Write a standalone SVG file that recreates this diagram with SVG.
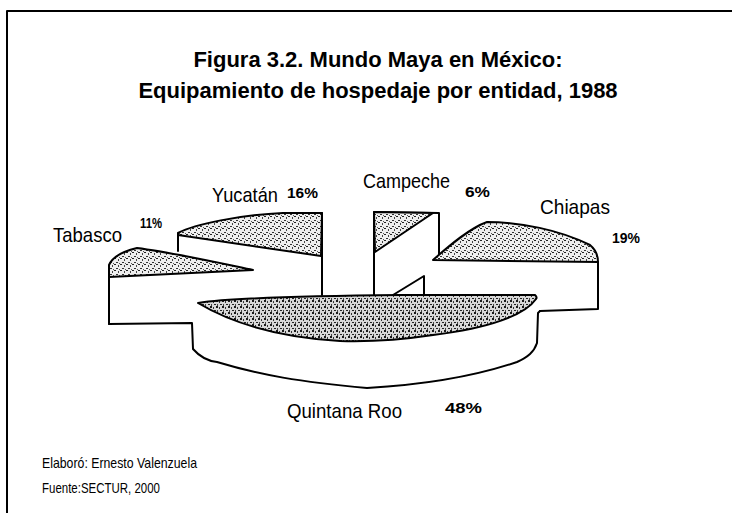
<svg xmlns="http://www.w3.org/2000/svg" width="732" height="513" viewBox="0 0 732 513">
  <defs>
    <pattern id="stip" width="6" height="6" patternUnits="userSpaceOnUse">
      <rect width="6" height="6" fill="#eeeeee"/>
      <rect x="0" y="0" width="2" height="1" fill="#222"/>
      <rect x="4" y="1" width="1" height="2" fill="#444"/>
      <rect x="2" y="4" width="2" height="1" fill="#333"/>
      <rect x="5" y="5" width="1" height="1" fill="#555"/>
    </pattern>
    <pattern id="stipDark" width="6" height="6" patternUnits="userSpaceOnUse">
      <rect width="6" height="6" fill="#d8d8d8"/>
      <rect x="0" y="0" width="2" height="2" fill="#1a1a1a"/>
      <rect x="3" y="1" width="1" height="2" fill="#333"/>
      <rect x="4" y="4" width="2" height="1" fill="#222"/>
      <rect x="1" y="4" width="1" height="2" fill="#444"/>
    </pattern>
    <style>
      .ln { fill: none; stroke: #000; stroke-width: 2; stroke-linejoin: round; stroke-linecap: round; }
      .top { fill: url(#stip); stroke: #000; stroke-width: 2; stroke-linejoin: round; }
      .topd { fill: url(#stipDark); stroke: #000; stroke-width: 2; stroke-linejoin: round; }
      .lbl { font-family: "Liberation Sans", Arial, sans-serif; font-size: 21px; fill: #000; }
      .pct { font-family: "Liberation Sans", Arial, sans-serif; font-size: 14px; font-weight: bold; fill: #000; }
      .ttl { font-family: "Liberation Sans", Arial, sans-serif; font-size: 22px; font-weight: bold; fill: #000; text-anchor: middle; }
      .ft { font-family: "Liberation Sans", Arial, sans-serif; font-size: 15px; fill: #000; }
    </style>
  </defs>
  <rect width="732" height="513" fill="#fff"/>
  <g id="frame">
    <path class="ln" d="M7,11 L732,11 M7,11 L7,513"/>
  </g>
  <g id="title">
    <text class="ttl" x="378" y="67">Figura 3.2. Mundo Maya en México:</text>
    <text class="ttl" x="378" y="98">Equipamiento de hospedaje por entidad, 1988</text>
  </g>
  <g id="slice-quintana-roo">
    <path class="ln" d="M109,324 L192,323 L193,349 C200,357 208,361 217,362 C260,375 300,382 367,388 C420,385 470,378 517,362 C528,357 534,352 537,343 L538,313 L540,311"/>
    <path class="topd" d="M198,303 C230,298 300,296 400,295 L535,295 C537,297 537,298 536,299 C525,315 490,328 433,335 C400,340 370,342 340,341 C290,338 240,328 198,303 Z"/>
    <text class="lbl" x="287" y="418" textLength="115" lengthAdjust="spacingAndGlyphs">Quintana Roo</text>
    <text class="pct" x="445" y="413" textLength="37" lengthAdjust="spacingAndGlyphs">48%</text>
  </g>
  <g id="slice-tabasco">
    <path class="ln" d="M109,277 L109,324"/>
    <path class="top" d="M109,277 L109,265 C112,258 120,252 137,248 C170,252 215,262 253,270 L109,277 Z"/>
    <text class="lbl" x="53" y="242" textLength="69" lengthAdjust="spacingAndGlyphs">Tabasco</text>
    <text class="pct" x="140" y="228" textLength="22" lengthAdjust="spacingAndGlyphs">11%</text>
  </g>
  <g id="slice-yucatan">
    <path class="ln" d="M178,235 L178,251 M322,213 L322,295"/>
    <path class="top" d="M178,235 L178,233 C195,224 240,215 283,213 L322,213 L321,256 Z"/>
    <text class="lbl" x="212" y="202" textLength="66" lengthAdjust="spacingAndGlyphs">Yucatán</text>
    <text class="pct" x="287" y="198" textLength="31" lengthAdjust="spacingAndGlyphs">16%</text>
  </g>
  <g id="slice-campeche">
    <path class="ln" d="M374,295 L374,212 L439,213 L439,256 M393,295 L424,276 L424,295"/>
    <path class="top" d="M374,212 L433,213 L375,252 Z"/>
    <text class="lbl" x="363" y="188" textLength="87" lengthAdjust="spacingAndGlyphs">Campeche</text>
    <text class="pct" x="465" y="197" textLength="25" lengthAdjust="spacingAndGlyphs">6%</text>
  </g>
  <g id="slice-chiapas">
    <path class="ln" d="M598,262 L598,309 L540,311"/>
    <path class="top" d="M433,260 C450,245 470,228 487,222 C520,222 560,230 590,245 C596,250 598,256 598,262 Z"/>
    <text class="lbl" x="540" y="214" textLength="70" lengthAdjust="spacingAndGlyphs">Chiapas</text>
    <text class="pct" x="612" y="243" textLength="28" lengthAdjust="spacingAndGlyphs">19%</text>
  </g>
  <g id="connectors"></g>
  <g id="footer">
    <text class="ft" x="42" y="468" textLength="155" lengthAdjust="spacingAndGlyphs">Elaboró: Ernesto Valenzuela</text>
    <text class="ft" x="42" y="493" textLength="118" lengthAdjust="spacingAndGlyphs">Fuente:SECTUR, 2000</text>
  </g>
</svg>
